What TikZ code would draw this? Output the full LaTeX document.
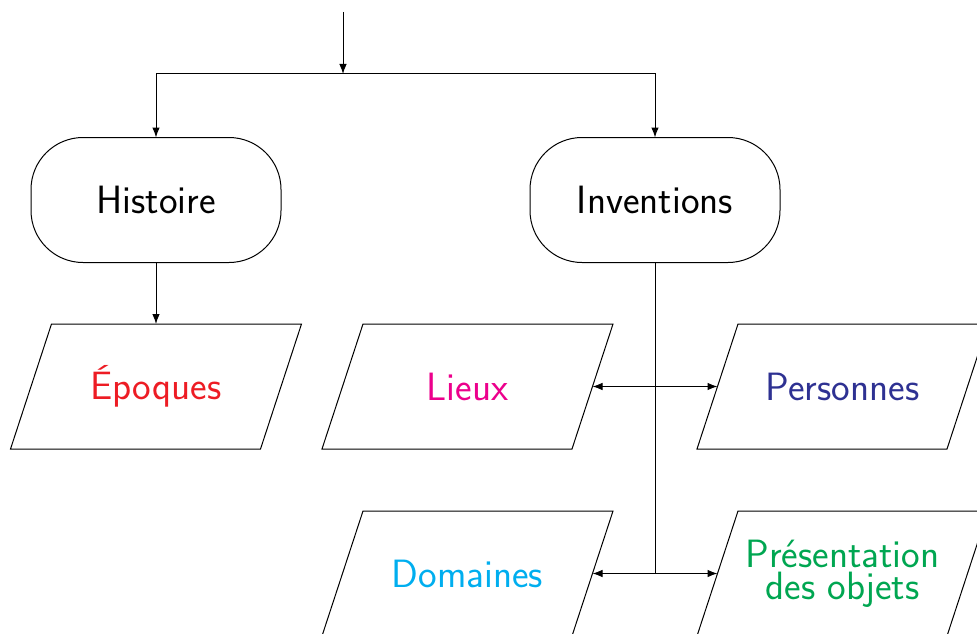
\documentclass[tikz,border=0pt]{standalone}
\usetikzlibrary{arrows.meta}
\definecolor{cred}{HTML}{ED1C24}
\definecolor{cmag}{HTML}{EC008C}
\definecolor{cblue}{HTML}{2E3192}
\definecolor{ccyan}{HTML}{00AEEF}
\definecolor{cgreen}{HTML}{00A651}
\begin{document}
\begin{tikzpicture}[x=1pt,y=-1pt,
  line width=1pt,
  txt/.style={font=\fontsize{39.5}{32}\selectfont\sffamily, align=center},
  term/.style={txt, draw, rounded corners=52pt, minimum width=250pt, minimum height=125pt, inner sep=0pt, outer sep=0pt},
  para/.style={txt, minimum width=250pt, minimum height=125pt, inner sep=0pt, outer sep=0pt,
    append after command={
      \pgfextra{\let\pname\tikzlastnode}
      ([xshift=20.5pt]\pname.north west) -- ([xshift=20.5pt]\pname.north east)
      -- ([xshift=-20.5pt]\pname.south east) -- ([xshift=-20.5pt]\pname.south west) -- cycle}},
  arr/.style={-{Latex[length=10pt,width=7.5pt]}}]
\useasboundingbox (0,0) rectangle (977,634);
\node[term] (hist) at (156,200) {Histoire};
\node[term] (inv) at (655,200) {Inventions};
\draw node[para, text=cred] (epo) at (156,386.5) {Époques};
\draw node[para, text=cmag] (lieux) at (467.5,386.5) {Lieux};
\draw node[para, text=cblue] (pers) at (842.5,386.5) {Personnes};
\draw node[para, text=ccyan] (dom) at (467.5,573.5) {Domaines};
\draw node[para, text=cgreen] (pres) at (842.5,573.5) {Présentation\\des objets};
\coordinate (start) at (343,12);
\coordinate (split) at (343,74);
\coordinate (j1) at (655,386.5);
\coordinate (j2) at (655,573.5);
\draw[arr] (start) -- (split);
\draw[arr] (split) -| (hist.north);
\draw[arr] (split) -| (inv.north);
\draw[arr] (hist.south) -- (epo.north);
\draw (inv.south) -- (j2);
\draw[arr] (j1) -- (lieux.east);
\draw[arr] (j1) -- (pers.west);
\draw[arr] (j2) -- (dom.east);
\draw[arr] (j2) -- (pres.west);
\end{tikzpicture}
\end{document}
